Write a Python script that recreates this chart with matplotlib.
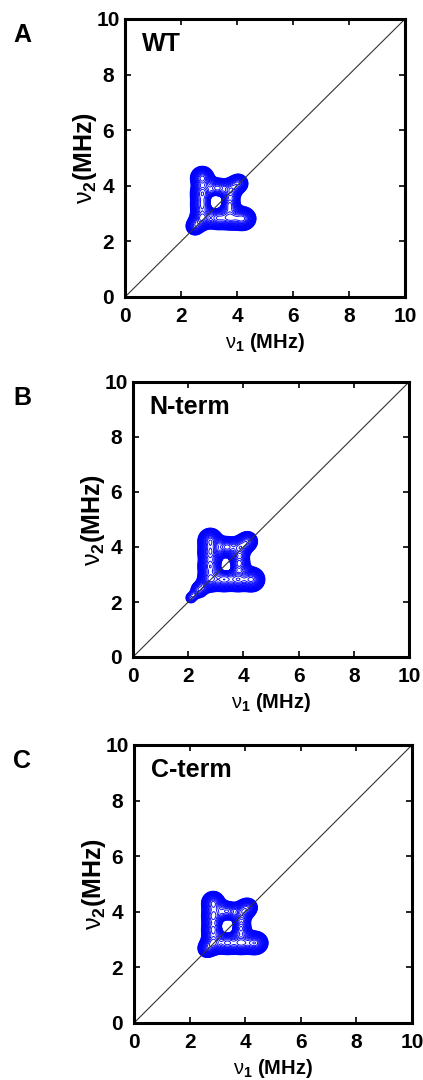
import numpy as np
import matplotlib.pyplot as plt

plt.rcParams['font.family'] = ['Liberation Sans', 'DejaVu Sans']
plt.rcParams['mathtext.fontset'] = 'custom'
plt.rcParams['mathtext.rm'] = 'Liberation Sans'
plt.rcParams['mathtext.bf'] = 'Liberation Sans:bold'

# panel names
letters = ['A', 'B', 'C']
names = ['WT', 'N-term', 'C-term']
ticks = [0, 2, 4, 6, 8, 10]

# cross peaks (MHz): x, y, width x, width y, amplitude (last entry = central dip)
wt_x = [2.76, 2.76, 2.76, 2.76, 3.30, 3.75, 4.20, 3.74, 3.78, 3.30, 4.05, 2.50, 3.22]
wt_y = [2.84, 3.30, 3.75, 4.28, 2.84, 2.84, 2.82, 3.30, 3.82, 3.92, 4.08, 2.55, 3.42]
wt_sx = [0.18, 0.18, 0.18, 0.18, 0.20, 0.20, 0.20, 0.16, 0.16, 0.20, 0.16, 0.15, 0.13]
wt_sy = [0.18, 0.20, 0.20, 0.18, 0.18, 0.18, 0.18, 0.20, 0.20, 0.16, 0.16, 0.15, 0.13]
wt_a = [1.00, 0.80, 0.90, 0.90, 0.80, 0.90, 1.00, 0.75, 0.70, 0.70, 0.55, 0.55, -0.60]

nt_x = [2.80, 2.80, 2.80, 2.80, 3.30, 3.80, 4.30, 3.85, 3.88, 3.40, 4.15, 2.40, 2.10, 3.37]
nt_y = [2.82, 3.30, 3.80, 4.24, 2.82, 2.82, 2.82, 3.40, 3.95, 4.00, 4.20, 2.45, 2.15, 3.27]
nt_sx = [0.19, 0.19, 0.19, 0.19, 0.20, 0.20, 0.20, 0.17, 0.17, 0.20, 0.17, 0.16, 0.13, 0.11]
nt_sy = [0.19, 0.20, 0.20, 0.19, 0.19, 0.19, 0.19, 0.20, 0.20, 0.17, 0.17, 0.16, 0.13, 0.11]
nt_a = [1.00, 0.90, 0.90, 0.90, 0.90, 0.90, 1.00, 0.70, 0.65, 0.70, 0.55, 0.30, 0.15, -0.45]

ct_x = [2.85, 2.85, 2.85, 2.85, 3.35, 3.85, 4.35, 3.85, 3.88, 3.35, 4.10, 2.62, 3.33]
ct_y = [2.88, 3.35, 3.85, 4.32, 2.88, 2.88, 2.88, 3.40, 3.95, 4.02, 4.15, 2.68, 3.46]
ct_sx = [0.18, 0.18, 0.18, 0.18, 0.20, 0.20, 0.20, 0.16, 0.16, 0.20, 0.16, 0.15, 0.12]
ct_sy = [0.18, 0.20, 0.20, 0.18, 0.18, 0.18, 0.18, 0.20, 0.20, 0.16, 0.16, 0.15, 0.12]
ct_a = [1.00, 0.90, 0.90, 0.90, 0.90, 0.90, 1.00, 0.70, 0.65, 0.70, 0.55, 0.55, -0.50]

peaks = [(wt_x, wt_y, wt_sx, wt_sy, wt_a),
         (nt_x, nt_y, nt_sx, nt_sy, nt_a),
         (ct_x, ct_y, ct_sx, ct_sy, ct_a)]

# axes boxes in figure pixels: left, top, right, bottom
boxes = [(125, 19, 405, 297), (133, 382, 409, 657), (134, 745, 412, 1023)]

W, H = 423, 1080
fig = plt.figure(figsize=(W / 100, H / 100), dpi=100)

g = np.linspace(0, 10, 800)
X, Y = np.meshgrid(g, g)
levels = np.geomspace(0.05, 1.0, 24)

for i in range(3):
    l, t, r, b = boxes[i]
    ax = fig.add_axes([l / W, 1 - b / H, (r - l) / W, (b - t) / H])
    px, py, sx, sy, amp = peaks[i]
    Z = np.zeros_like(X)
    for k in range(len(px)):
        Z += amp[k] * np.exp(-0.5 * ((X - px[k]) / sx[k]) ** 2 - 0.5 * ((Y - py[k]) / sy[k]) ** 2)
    Z = np.clip(Z, 0, None) / Z.max()
    ax.contour(X, Y, Z, levels=levels, colors='#0000ff', linewidths=0.65)
    ax.plot([0, 10], [0, 10], color='#333333', lw=0.8)
    ax.set_xlim(0, 10)
    ax.set_ylim(0, 10)
    ax.set_xticks(ticks)
    ax.set_yticks(ticks)
    ax.tick_params(direction='in', length=4, width=1.2, top=True, right=True,
                   labelsize=15)
    ax.tick_params(axis='x', pad=7)
    ax.tick_params(axis='y', pad=12)
    for lab in ax.get_xticklabels() + ax.get_yticklabels():
        lab.set_fontweight('bold')
    for lab in ax.get_yticklabels():
        lab.set_horizontalalignment('center')
    for s in ax.spines.values():
        s.set_linewidth(2.2)
    ax.set_xlabel(r'$\mathrm{\nu}_\mathbf{1}$ (MHz)', fontsize=14.5, fontweight='bold', labelpad=4)
    ax.set_ylabel(r'$\mathrm{\nu}_\mathbf{2}$(MHz)', fontsize=18, fontweight='bold', labelpad=-2)
    ax.text(0.06, 0.91, names[i], transform=ax.transAxes, fontsize=18,
            fontweight='bold', va='center', ha='left')
    fig.text(22 / W, 1 - (t + 16) / H, letters[i], fontsize=18, fontweight='bold',
             ha='center', va='center')

fig.savefig('out.png', dpi=100)
